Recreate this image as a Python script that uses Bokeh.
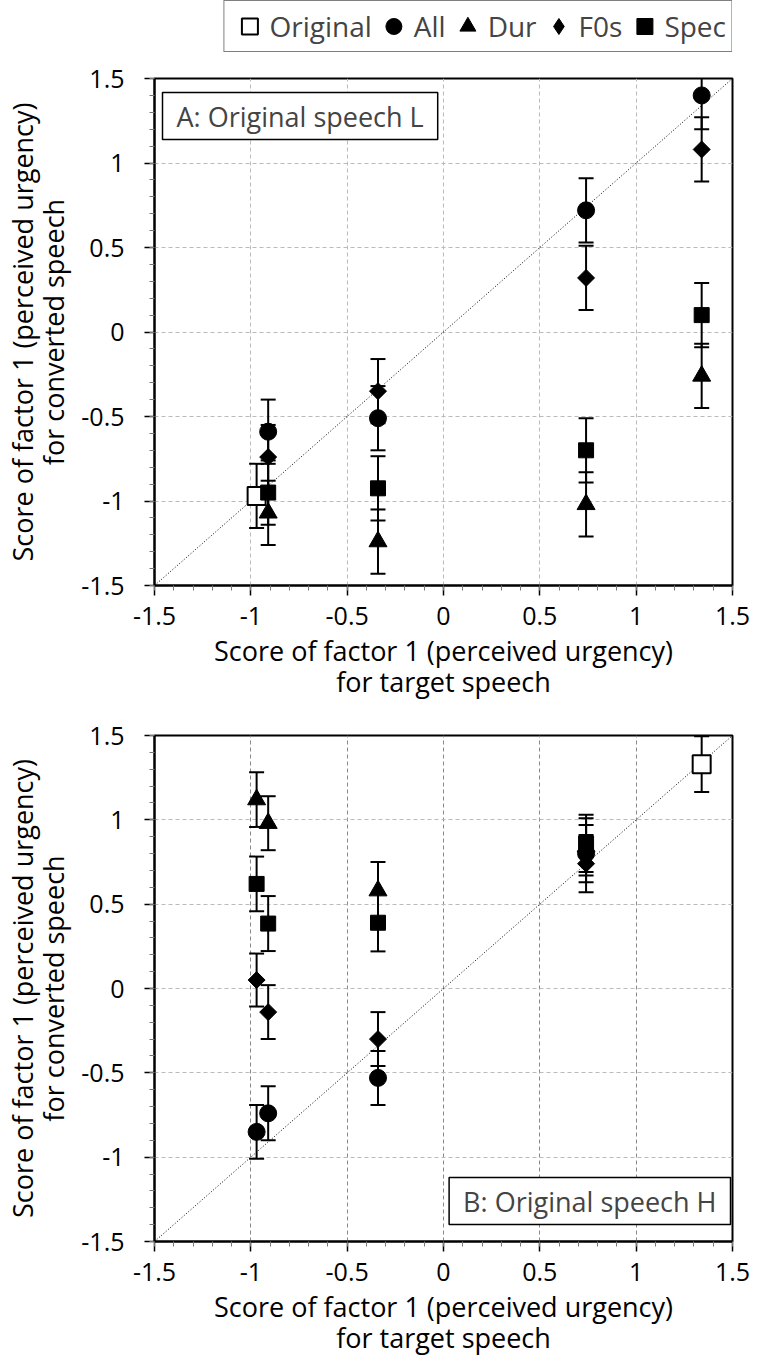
import numpy as np
import pandas as pd
from bokeh.plotting import figure
from bokeh.models import (ColumnDataSource, Whisker, TeeHead, FixedTicker,
                          Legend, LegendItem, Label)
from bokeh.layouts import column
from bokeh.embed import file_html
from bokeh.resources import INLINE

FONT = "Open Sans"

# ---------------- axis ticks ----------------
TICKS = [-1.5, -1.0, -0.5, 0.0, 0.5, 1.0, 1.5]
TICK_LABELS = ["-1.5", "-1", "-0.5", "0", "0.5", "1", "1.5"]
MINOR_TICKS = [-1.5, -1.4, -1.3, -1.2, -1.1, -1.0, -0.9, -0.8, -0.7, -0.6,
               -0.5, -0.4, -0.3, -0.2, -0.1, 0.0, 0.1, 0.2, 0.3, 0.4, 0.5,
               0.6, 0.7, 0.8, 0.9, 1.0, 1.1, 1.2, 1.3, 1.4, 1.5]
LO, HI = -1.5, 1.5
DIAG = [LO, HI]

SERIES = ["Original", "All", "Dur", "F0s", "Spec"]

X_LABEL = "Score of factor 1 (perceived urgency)\nfor target speech"
Y_LABEL = "Score of factor 1 (perceived urgency)\nfor converted speech"

# ---------------- Panel A: original speech L ----------------
A_ORIG_X = [-0.97]
A_ORIG_Y = [-0.97]
A_ORIG_ERR = [0.19]

A_X = [-0.91, -0.34, 0.74, 1.34]
A_ALL = [-0.59, -0.51, 0.72, 1.40]
A_DUR = [-1.07, -1.24, -1.02, -0.26]
A_F0S = [-0.74, -0.35, 0.32, 1.08]
A_SPEC = [-0.95, -0.925, -0.70, 0.10]
A_ERR_ALL = [0.19, 0.19, 0.19, 0.20]
A_ERR_DUR = [0.19, 0.19, 0.19, 0.19]
A_ERR_F0S = [0.19, 0.19, 0.19, 0.19]
A_ERR_SPEC = [0.19, 0.19, 0.19, 0.19]

# ---------------- Panel B: original speech H ----------------
B_ORIG_X = [1.34]
B_ORIG_Y = [1.33]
B_ORIG_ERR = [0.165]

B_X = [-0.97, -0.91, -0.34, 0.74]
B_ALL = [-0.85, -0.74, -0.53, 0.80]
B_DUR = [1.12, 0.98, 0.58, 0.84]
B_F0S = [0.05, -0.14, -0.30, 0.74]
B_SPEC = [0.62, 0.385, 0.39, 0.86]
B_ERR_ALL = [0.16, 0.16, 0.16, 0.17]
B_ERR_DUR = [0.162, 0.16, 0.17, 0.17]
B_ERR_F0S = [0.157, 0.16, 0.16, 0.17]
B_ERR_SPEC = [0.162, 0.163, 0.17, 0.17]

# marker, size, fill, angle  (plot markers)
STYLE = {
    "Original": ("square", 18, "white", 0.0),
    "All": ("circle", 17, "black", 0.0),
    "Dur": ("triangle", 18, "black", 0.0),
    "F0s": ("square", 12, "black", np.pi / 4),
    "Spec": ("square", 15, "black", 0.0),
}
# legend keys (legend glyphs ignore rotation, so the diamond is explicit)
LEGEND_MARKER = {"Original": "square", "All": "circle", "Dur": "triangle",
                 "F0s": "diamond", "Spec": "square"}

FRAME_W = 583
FRAME_H = 507
FIG_W = 750
B_LEFT, B_RIGHT = 149, 18


def make_panel(b_top, b_bottom, data, xgrid_color):
    p = figure(width=FIG_W, height=b_top + FRAME_H + b_bottom,
               x_range=(LO, HI), y_range=(LO, HI),
               output_backend="svg", toolbar_location=None,
               min_border_left=B_LEFT, min_border_right=B_RIGHT,
               min_border_top=b_top, min_border_bottom=b_bottom,
               background_fill_color="white", border_fill_color="white",
               outline_line_color="black", outline_line_width=2)
    for ax in (p.xaxis[0], p.yaxis[0]):
        ax.ticker = FixedTicker(ticks=TICKS, minor_ticks=MINOR_TICKS)
        ax.major_label_overrides = dict(zip(TICKS, TICK_LABELS))
        ax.axis_line_width = 2
        ax.axis_line_color = "black"
        ax.major_tick_out = 10
        ax.major_tick_in = 0
        ax.minor_tick_out = 5
        ax.minor_tick_in = 0
        ax.major_tick_line_width = 1.5
        ax.major_tick_line_color = "black"
        ax.minor_tick_line_width = 1
        ax.minor_tick_line_color = "#777777"
        ax.major_label_text_font = FONT
        ax.major_label_text_font_size = "25px"
        ax.major_label_text_color = "black"
        ax.axis_label_text_font = FONT
        ax.axis_label_text_font_size = "27px"
        ax.axis_label_text_font_style = "normal"
        ax.axis_label_text_color = "black"
        ax.axis_label_text_line_height = 0.85
    p.xaxis.axis_label = X_LABEL
    p.yaxis.axis_label = Y_LABEL
    p.xaxis.major_label_standoff = 11
    p.yaxis.major_label_standoff = 20
    p.xaxis.axis_label_standoff = 4
    p.yaxis.axis_label_standoff = 6

    p.grid.grid_line_dash = "4 3"
    p.grid.grid_line_width = 1
    p.ygrid.grid_line_color = "#bbbbbb"
    p.xgrid.grid_line_color = xgrid_color

    p.line(x=DIAG, y=DIAG, line_color="black", line_width=1, line_dash="1 2")

    srcs = {}
    for name in SERIES:
        xs, ys, es = data[name]
        df = pd.DataFrame({"x": xs, "y": ys, "err": es})
        df["upper"] = df["y"] + df["err"]
        df["lower"] = df["y"] - df["err"]
        src = ColumnDataSource(df)
        w = Whisker(source=src, base="x", upper="upper", lower="lower",
                    dimension="height", line_color="black", line_width=2,
                    upper_head=TeeHead(size=15, line_color="black", line_width=2),
                    lower_head=TeeHead(size=15, line_color="black", line_width=2))
        p.add_layout(w)
        srcs[name] = src
    for name in SERIES:
        marker, size, fill, angle = STYLE[name]
        p.scatter(x="x", y="y", source=srcs[name], marker=marker, size=size,
                  fill_color=fill, line_color="black",
                  line_width=2 if name == "Original" else 1, angle=angle)
    return p, srcs


data_a = {
    "Original": (A_ORIG_X, A_ORIG_Y, A_ORIG_ERR),
    "All": (A_X, A_ALL, A_ERR_ALL),
    "Dur": (A_X, A_DUR, A_ERR_DUR),
    "F0s": (A_X, A_F0S, A_ERR_F0S),
    "Spec": (A_X, A_SPEC, A_ERR_SPEC),
}
data_b = {
    "Original": (B_ORIG_X, B_ORIG_Y, B_ORIG_ERR),
    "All": (B_X, B_ALL, B_ERR_ALL),
    "Dur": (B_X, B_DUR, B_ERR_DUR),
    "F0s": (B_X, B_F0S, B_ERR_F0S),
    "Spec": (B_X, B_SPEC, B_ERR_SPEC),
}

pa, srcs_a = make_panel(20, 117, data_a, "#bbbbbb")
pb, srcs_b = make_panel(33, 116, data_b, "#888888")

# ---------------- legend strip (above panel A) ----------------
pl = figure(width=FIG_W, height=58, x_range=(0, 1), y_range=(0, 1),
            x_axis_type=None, y_axis_type=None,
            output_backend="svg", toolbar_location=None,
            min_border_left=B_LEFT, min_border_right=10,
            min_border_top=0, min_border_bottom=0,
            outline_line_color=None, background_fill_color="white",
            border_fill_color="white")
items = []
for name in SERIES:
    _, _, fill, _ = STYLE[name]
    # legend keys share panel A's data but are not drawn in this strip
    r = pl.scatter(x="x", y="y", source=srcs_a[name], marker=LEGEND_MARKER[name],
                   fill_color=fill, line_color="black",
                   line_width=2 if name == "Original" else 1, visible=False)
    items.append(LegendItem(label=name, renderers=[r]))
legend = Legend(items=items, orientation="horizontal", location="top_right",
                label_text_font=FONT, label_text_font_size="28px",
                glyph_width=40, glyph_height=40, label_standoff=0,
                spacing=2, padding=5, margin=0,
                inactive_fill_alpha=0,
                border_line_color="black", border_line_width=1.5,
                background_fill_color="white", background_fill_alpha=1)
pl.add_layout(legend)

BOX_PAD = dict(left=14, right=14, top=5, bottom=5)

lab_a = Label(x=8, y=493, x_units="screen", y_units="screen",
              text="A: Original speech L", text_font=FONT, text_font_size="27px",
              text_align="left", text_baseline="top", padding=BOX_PAD,
              border_line_color="black", border_line_width=1.5,
              background_fill_color="white")
pa.add_layout(lab_a)

lab_b = Label(x=576, y=17, x_units="screen", y_units="screen",
              text="B: Original speech H", text_font=FONT, text_font_size="27px",
              text_align="right", text_baseline="bottom", padding=BOX_PAD,
              border_line_color="black", border_line_width=1.5,
              background_fill_color="white")
pb.add_layout(lab_b)

layout = column(pl, pa, pb)
open("out.html", "w").write(file_html(layout, INLINE))
